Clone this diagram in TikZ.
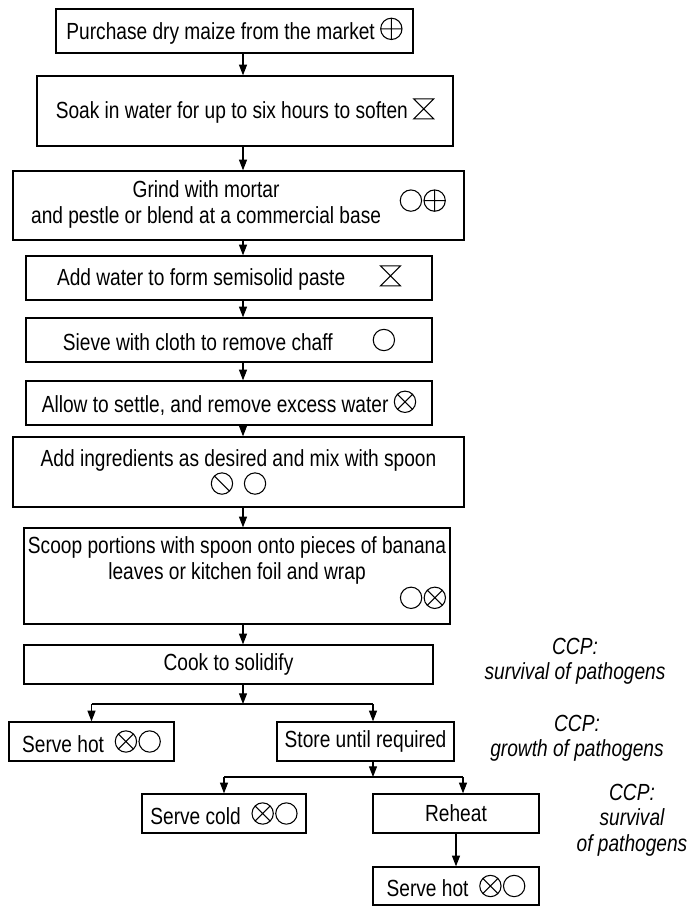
\documentclass[tikz,border=0pt]{standalone}
\usepackage{fontspec}
\setmainfont[FakeStretch=0.82]{Liberation Sans}
\usepackage{tikz}
\usetikzlibrary{arrows.meta}

\newcommand{\boxfont}{\fontsize{17.5}{19}\selectfont}
% hazard symbols
\newcommand{\symcirc}{\tikz[reset cm,baseline=-8pt]\draw[line width=0.8pt] (0,0) circle (8pt);}
\newcommand{\symplus}{\tikz[reset cm,baseline=-8pt]\draw[line width=0.8pt] (0,0) circle (8pt) (-8pt,0)--(8pt,0) (0,-8pt)--(0,8pt);}
\newcommand{\symtimes}{\tikz[reset cm,baseline=-8pt]\draw[line width=0.8pt] (0,0) circle (8pt) (45:8pt)--(225:8pt) (135:8pt)--(-45:8pt);}
\newcommand{\symslash}{\tikz[reset cm,baseline=-8pt]\draw[line width=0.8pt] (0,0) circle (8pt) (135:8pt)--(-45:8pt);}
\newcommand{\symglass}{\tikz[reset cm,baseline=-7.5pt]\draw[line width=0.8pt] (-7.5pt,-7.5pt)--(7.5pt,-7.5pt)--(-7.5pt,7.5pt)--(7.5pt,7.5pt)--cycle;}

\begin{document}
\begin{tikzpicture}[x=0.75pt,y=0.75pt,yscale=-1,xscale=1,font=\boxfont,
  box/.style={draw, line width=1pt, inner sep=0pt, align=center},
  boxsize/.style 2 args={minimum width=#1*0.75pt, minimum height=#2*0.75pt},
  arr/.style={line width=0.8pt, -{Triangle[length=8pt,width=6pt]}},
  ccp/.style={align=center, font=\boxfont\itshape}]
\useasboundingbox (0,0) rectangle (691,907);

%Main steps
\node[box, boxsize={357}{44}] (buy) at (234.5,31) {Purchase dry maize from the market \symplus};
\node[box, boxsize={416}{70}] (soak) at (245,111) {Soak in water for up to six hours to soften \symglass};
\node[box, boxsize={451}{69}] (grind) at (238.5,205.5) {\begin{tabular}{@{}c@{}}Grind with mortar\\and pestle or blend at a commercial base\end{tabular}\hspace{14pt}\symcirc\hspace{1pt}\symplus};
\node[box, boxsize={406}{44}] (paste) at (229,278) {Add water to form semisolid paste\hspace{26pt}\symglass};
\node[box, boxsize={406}{44}] (sieve) at (229,340) {Sieve with cloth to remove chaff\hspace{30pt}\symcirc};
\node[box, boxsize={406}{44}] (settle) at (229,403) {Allow to settle, and remove excess water \symtimes};
\node[box, boxsize={451}{70}] (mix) at (238.5,472) {Add ingredients as desired and mix with spoon\\\symslash\hspace{8pt}\symcirc};
\node[box, boxsize={426}{96}] (scoop) at (237,576) {\begin{tabular}{@{}c@{}}Scoop portions with spoon onto pieces of banana\\leaves or kitchen foil and wrap\\\hfill\symcirc\hspace{1pt}\symtimes\end{tabular}};
\node[box, boxsize={409}{39}] (cook) at (228.5,664.5) {Cook to solidify};

%Branches
\node[box, boxsize={165}{39}] (hotA) at (91.5,741.5) {Serve hot\hspace{8pt}\symtimes\hspace{1pt}\symcirc};
\node[box, boxsize={177}{39}] (store) at (365.5,741.5) {Store until required};
\node[box, boxsize={164}{39}] (cold) at (224,813.5) {Serve cold\hspace{8pt}\symtimes\hspace{1pt}\symcirc};
\node[box, boxsize={166}{39}] (reheat) at (456,813.5) {Reheat};
\node[box, boxsize={166}{38}] (hotB) at (456,886) {Serve hot\hspace{8pt}\symtimes\hspace{1pt}\symcirc};

% CCP notes
\node[ccp] (ccpA) at (575,661) {CCP:\\survival of pathogens};
\node[ccp] (ccpB) at (577,738) {CCP:\\growth of pathogens};
\node[ccp] (ccpC) at (632,820) {CCP:\\survival\\of pathogens};

\coordinate (spine) at (243,0);
\coordinate (stem) at (373,0);
\coordinate (stem2) at (463,0);
\coordinate (fork1) at (243,704);
\coordinate (fork2) at (373,777);

\draw[arr] (buy.south -| spine) -- (soak.north -| spine);
\draw[arr] (soak.south -| spine) -- (grind.north -| spine);
\draw[arr] (grind.south -| spine) -- (paste.north -| spine);
\draw[arr] (paste.south -| spine) -- (sieve.north -| spine);
\draw[arr] (sieve.south -| spine) -- (settle.north -| spine);
\draw[arr] (settle.south -| spine) -- (mix.north -| spine);
\draw[arr] (mix.south -| spine) -- (scoop.north -| spine);
\draw[arr] (scoop.south -| spine) -- (cook.north -| spine);

\draw[arr] (cook.south -| spine) -- (fork1);
\draw[line width=0.8pt] (fork1 -| hotA.north) -- (fork1 -| stem);
\draw[arr] (fork1 -| hotA.north) -- (hotA.north);
\draw[arr] (fork1 -| stem) -- (store.north -| stem);

\draw[arr] (store.south -| stem) -- (fork2);
\draw[line width=0.8pt] (fork2 -| cold.north) -- (fork2 -| stem2);
\draw[arr] (fork2 -| cold.north) -- (cold.north);
\draw[arr] (fork2 -| stem2) -- (reheat.north -| stem2);
\draw[arr] (reheat.south) -- (hotB.north);

\end{tikzpicture}
\end{document}
